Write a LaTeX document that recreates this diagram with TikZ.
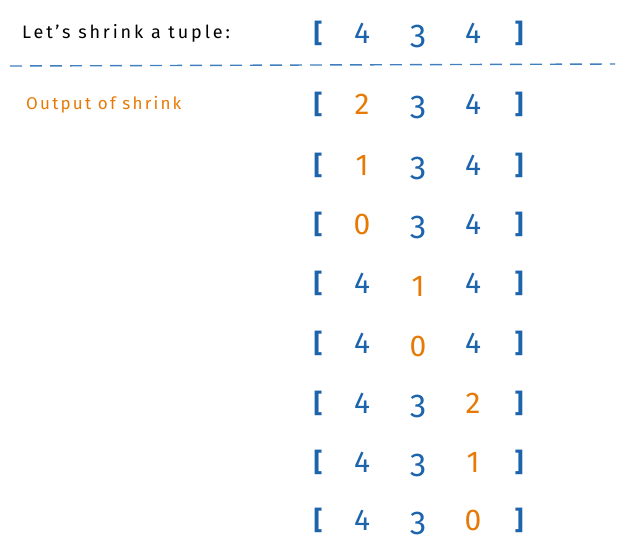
\documentclass[tikz,border=0pt]{standalone}
\usepackage{fontspec}
\setmainfont{Fira Sans}
\definecolor{tblue}{HTML}{1C64AC}
\definecolor{torange}{HTML}{E67A05}
\definecolor{tdash}{HTML}{3F7FC0}
\begin{document}
\begin{tikzpicture}[x=1pt,y=-1pt,
  num/.style={font=\fontsize{30}{32}\selectfont, text=tblue, inner sep=0pt, anchor=center},
  three/.style={num, font=\fontsize{33}{35}\selectfont},
  chg/.style={num, text=torange},
  brk/.style={font=\fontsize{26}{28}\selectfont\bfseries, text=tblue, inner sep=0pt, anchor=center},
  lbl/.style={anchor=west, inner sep=0pt}]
\useasboundingbox (0,0) rectangle (625,555);
% header
\node[lbl, text=black, font=\fontsize{18}{20}\selectfont\addfontfeatures{LetterSpace=16}] (title) at (22,33) {Let's shrink a tuple:};
\node[brk] (h0) at (318,33) {[};
\node[num] (h1) at (362,33) {4};
\node[three] (h2) at (418,36) {3};
\node[num] (h3) at (473,33) {4};
\node[brk] (h4) at (519,33) {]};
\coordinate (dl) at (10,66);
\coordinate (dr) at (615,64);
\draw[tdash, line width=1.4pt, dash pattern=on 12pt off 8pt] (dl) -- (dr);
\node[lbl, text=torange, font=\fontsize{17}{19}\selectfont\addfontfeatures{LetterSpace=13}] (out) at (26,105) {Output of shrink};
% rows: y, a, b, c, styleA, styleB, styleC
\foreach \y/\a/\b/\c/\sa/\sb/\sc [count=\i] in {
  104/2/3/4/chg/three/num,
  165/1/3/4/chg/three/num,
  224/0/3/4/chg/three/num,
  283/4/1/4/num/chg/num,
  343/4/0/4/num/chg/num,
  403/4/3/2/num/three/chg,
  462/4/3/1/num/three/chg,
  520/4/3/0/num/three/chg}{
  \node[brk] (r\i b0) at (318,\y) {[};
  \node[\sa] (r\i d1) at (362,\y) {\a};
  \node[\sb] (r\i d2) at (418,\y+3) {\b};
  \node[\sc] (r\i d3) at (473,\y) {\c};
  \node[brk] (r\i b4) at (519,\y) {]};
}
\end{tikzpicture}
\end{document}
